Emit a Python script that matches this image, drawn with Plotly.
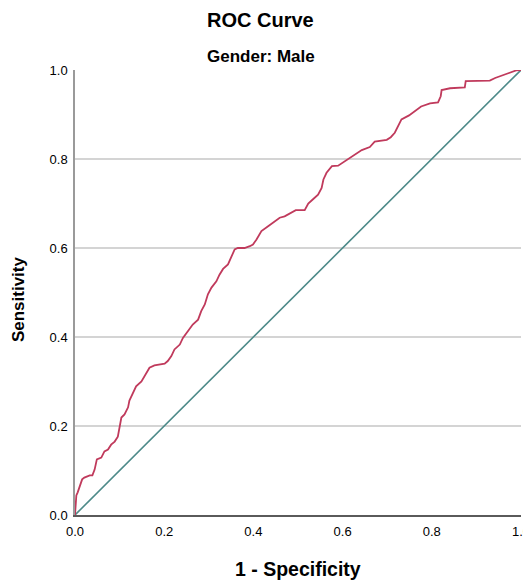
import plotly.graph_objects as go

# ROC curve points (1 - Specificity, Sensitivity)
fpr = [0.000, 0.002, 0.003, 0.006, 0.010, 0.016, 0.021, 0.033, 0.039, 0.044,
       0.049, 0.059, 0.066, 0.074, 0.081, 0.089, 0.096, 0.100, 0.104, 0.111,
       0.119, 0.122, 0.130, 0.137, 0.149, 0.156, 0.167, 0.178, 0.190, 0.201,
       0.208, 0.216, 0.223, 0.235, 0.242, 0.253, 0.264, 0.276, 0.283, 0.291,
       0.298, 0.306, 0.317, 0.324, 0.332, 0.343, 0.351, 0.358, 0.365, 0.380,
       0.392, 0.399, 0.407, 0.418, 0.433, 0.448, 0.459, 0.470, 0.485, 0.495,
       0.515, 0.523, 0.533, 0.545, 0.553, 0.557, 0.564, 0.576, 0.590, 0.609,
       0.625, 0.643, 0.661, 0.672, 0.699, 0.708, 0.717, 0.725, 0.732, 0.749,
       0.762, 0.776, 0.796, 0.814, 0.820, 0.822, 0.841, 0.874, 0.876, 0.930,
       0.942, 0.957, 0.973, 0.989, 1.000]
tpr = [0.000, 0.019, 0.044, 0.051, 0.062, 0.080, 0.084, 0.089, 0.089, 0.102,
       0.125, 0.129, 0.143, 0.147, 0.158, 0.165, 0.176, 0.199, 0.219, 0.226,
       0.242, 0.257, 0.273, 0.289, 0.300, 0.313, 0.331, 0.336, 0.338, 0.340,
       0.346, 0.357, 0.372, 0.383, 0.398, 0.413, 0.428, 0.439, 0.458, 0.473,
       0.496, 0.511, 0.525, 0.540, 0.553, 0.563, 0.582, 0.597, 0.600, 0.600,
       0.604, 0.608, 0.619, 0.638, 0.649, 0.660, 0.668, 0.671, 0.679, 0.685,
       0.685, 0.700, 0.709, 0.720, 0.735, 0.754, 0.769, 0.784, 0.785, 0.798,
       0.809, 0.820, 0.827, 0.839, 0.843, 0.849, 0.859, 0.875, 0.889, 0.898,
       0.907, 0.918, 0.925, 0.927, 0.941, 0.955, 0.959, 0.961, 0.975, 0.976,
       0.982, 0.987, 0.994, 0.999, 1.000]

ref_x = [0.0, 1.0]
ref_y = [0.0, 1.0]

tick_vals = [0.0, 0.2, 0.4, 0.6, 0.8, 1.0]
tick_text = ["0.0", "0.2", "0.4", "0.6", "0.8", "1.0"]

FONT = "Arial, Liberation Sans, sans-serif"
CLEAR = "rgba(0,0,0,0)"

fig = go.Figure()
fig.add_trace(go.Scatter(x=ref_x, y=ref_y, mode="lines",
                         line=dict(color="#4d8a89", width=1.6),
                         hoverinfo="skip", showlegend=False))
fig.add_trace(go.Scatter(x=fpr, y=tpr, mode="lines",
                         line=dict(color="#c03a5c", width=1.8),
                         showlegend=False))

fig.update_layout(
    width=523, height=573,
    margin=dict(l=67, r=10, t=62, b=66),
    paper_bgcolor="white", plot_bgcolor="white",
    font=dict(family=FONT, color="black"),
    xaxis=dict(range=[0, 1], tickvals=tick_vals, ticktext=tick_text,
               automargin=False,
               showgrid=False, zeroline=False, showline=True,
               linecolor="#5a5a5a", linewidth=1.5,
               ticks="outside", ticklen=4, tickcolor=CLEAR,
               tickfont=dict(size=13, family=FONT, color="black")),
    yaxis=dict(range=[0, 1], tickvals=tick_vals, ticktext=tick_text,
               automargin=False,
               showgrid=True, gridcolor="#d4d4d4", gridwidth=1.5,
               zeroline=False, showline=True,
               linecolor="#9a9a9a", linewidth=1.5,
               ticks="outside", ticklen=3, tickcolor=CLEAR,
               tickfont=dict(size=13, family=FONT, color="black")),
    annotations=[
        dict(text="<b>ROC Curve</b>", x=0.417, y=1.112, xref="paper", yref="paper",
             showarrow=False, font=dict(size=20, family=FONT, color="black"),
             xanchor="center", yanchor="middle"),
        dict(text="<b>Gender: Male</b>", x=0.417, y=1.031, xref="paper", yref="paper",
             showarrow=False, font=dict(size=17, family=FONT, color="black"),
             xanchor="center", yanchor="middle"),
        dict(text="<b>1 - Specificity</b>", x=0.5, y=-0.122, xref="paper", yref="paper",
             showarrow=False, font=dict(size=19.5, family=FONT, color="black"),
             xanchor="center", yanchor="middle"),
        dict(text="<b>Sensitivity</b>", x=-0.128, y=0.485, xref="paper", yref="paper",
             showarrow=False, textangle=-90,
             font=dict(size=17, family=FONT, color="black"),
             xanchor="center", yanchor="middle"),
    ],
)

fig.write_html("out.html")
